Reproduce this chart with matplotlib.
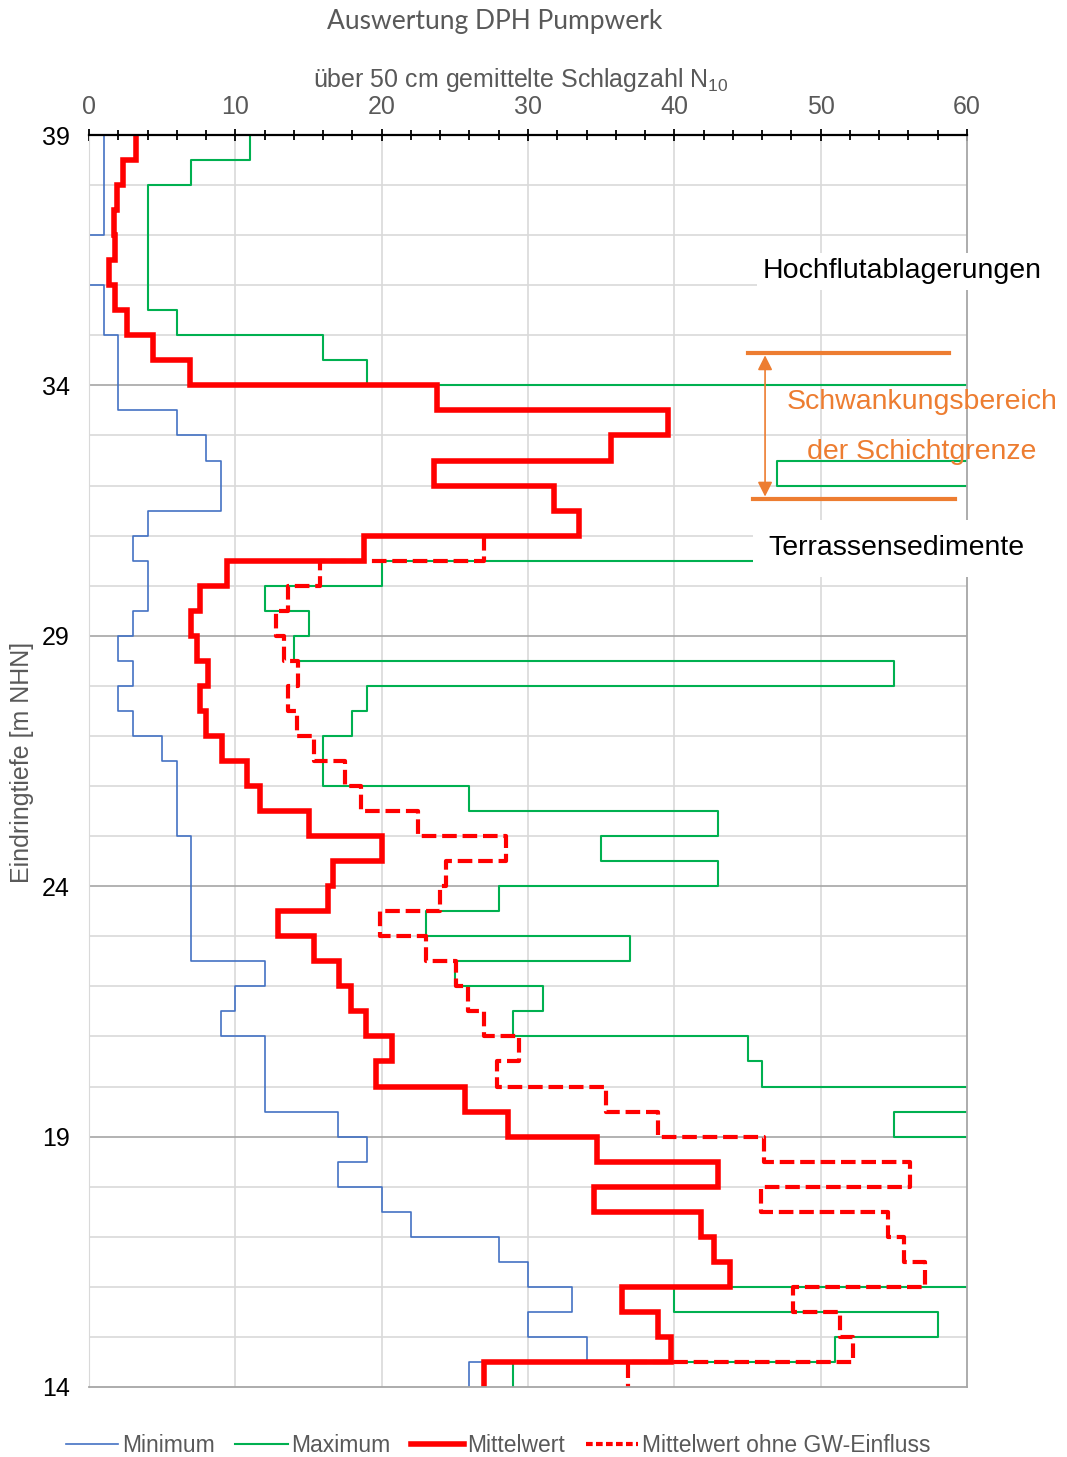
import matplotlib
matplotlib.use("Agg")
import matplotlib.pyplot as plt
from matplotlib import font_manager
from matplotlib.lines import Line2D
import numpy as np

# Tiefenintervalle: Oberkante je 0.5 m (m NHN)
depth_top = np.arange(39.0, 14.0, -0.5)

# ueber 50 cm gemittelte Schlagzahl N10 je Intervall (von oben nach unten)
# Werte > 60 liegen ausserhalb der Achse, hier als 65 eingetragen
minimum = [1, 1, 1, 1, 0, 0, 1, 1, 2, 2,
           2, 6, 8, 9, 9, 4, 3, 4, 4, 3,
           2, 3, 2, 3, 5, 6, 6, 6, 7, 7,
           7, 7, 7, 12, 10, 9, 12, 12, 12, 17,
           19, 17, 20, 22, 28, 30, 33, 30, 34, 26]
maximum = [11, 7, 4, 4, 4, 4, 4, 6, 16, 19,
           65, 65, 65, 47, 65, 65, 65, 20, 12, 15,
           14, 55, 19, 18, 16, 16, 26, 43, 35, 43,
           28, 23, 37, 25, 31, 29, 45, 46, 65, 55,
           65, 65, 65, 65, 65, 65, 40, 58, 51, 29]
mittel = [3.2, 2.3, 1.9, 1.7, 1.8, 1.4, 1.8, 2.6, 4.4, 6.9,
          23.8, 39.6, 35.7, 23.6, 31.8, 33.5, 18.8, 9.4, 7.6, 7.0,
          7.4, 8.1, 7.6, 8.0, 9.1, 10.8, 11.7, 15.0, 20.0, 16.7,
          16.3, 12.9, 15.4, 17.1, 17.9, 18.9, 20.7, 19.6, 25.7, 28.6,
          34.7, 43.0, 34.5, 41.8, 42.7, 43.8, 36.4, 38.9, 39.8, 27.0]
mittel_ohne_gw = [np.nan] * 16 + [
          27.0, 15.8, 13.6, 12.8,
          13.3, 14.3, 13.6, 14.2, 15.4, 17.5, 18.6, 22.5, 28.5, 24.4,
          24.0, 19.9, 23.0, 25.1, 25.9, 27.0, 29.4, 27.9, 35.3, 38.9,
          46.1, 56.1, 45.9, 54.6, 55.7, 57.1, 48.1, 51.3, 52.2, 36.8]

# Fonts
names = {f.name for f in font_manager.fontManager.ttflist}
narrow = 'Liberation Sans Narrow' if 'Liberation Sans Narrow' in names else 'Liberation Sans'
plt.rcParams['font.family'] = [narrow, 'DejaVu Sans']
plt.rcParams['mathtext.fontset'] = 'custom'
plt.rcParams['mathtext.rm'] = narrow
plt.rcParams['mathtext.default'] = 'regular'

BLUE = '#4472C4'
GREEN = '#00B050'
RED = '#FF0000'
ORANGE = '#ED7D31'
GRAY = '#595959'


# Stufenlinie aus Intervallwerten
def stufen(werte):
    x, y = [], []
    for d, v in zip(depth_top, werte):
        x += [v, v]
        y += [d, d - 0.5]
    return x, y


fig = plt.figure(figsize=(10.67, 14.57), dpi=100)
ax = fig.add_axes([89 / 1067, 1 - 1387 / 1457, 878 / 1067, 1252 / 1457])

ax.set_xlim(0, 60)
ax.set_ylim(14, 39)

# Gitter
for xv in range(10, 60, 10):
    ax.axvline(xv, color='#D9D9D9', lw=1.2, zorder=0)
for yv in range(15, 39):
    c = '#A6A6A6' if yv % 5 == 4 else '#D9D9D9'
    ax.axhline(yv, color=c, lw=1.2, zorder=0)

x, y = stufen(minimum)
ax.plot(x, y, color=BLUE, lw=1.2, label='Minimum')
x, y = stufen(maximum)
ax.plot(x, y, color=GREEN, lw=1.5, label='Maximum')
x, y = stufen(mittel)
ax.plot(x, y, color=RED, lw=4, solid_joinstyle='miter', label='Mittelwert')
x, y = stufen(mittel_ohne_gw)
ax.plot(x, y, color=RED, lw=3, dashes=(3.5, 1.4), label='Mittelwert ohne GW-Einfluss')

# Achsen
ax.xaxis.tick_top()
ax.set_xticks(range(0, 61, 10))
ax.set_xticks(range(0, 61, 2), minor=True)
ax.tick_params(axis='x', which='major', direction='inout', length=9, width=1.3,
               labelsize=18, labelcolor=GRAY, pad=7)
ax.tick_params(axis='x', which='minor', direction='inout', length=6.5, width=1.3)
ax.set_yticks(range(14, 40, 5))
ax.tick_params(axis='y', length=0, labelsize=18, pad=14)
for s in ['bottom', 'right']:
    ax.spines[s].set_color('#A6A6A6')
    ax.spines[s].set_linewidth(1.3)
ax.spines['left'].set_color('#D9D9D9')
ax.spines['top'].set_color('black')
ax.spines['top'].set_linewidth(1.6)

fig.text(521 / 1067, 1 - 80 / 1457, r'über 50 cm gemittelte Schlagzahl N$_{10}$',
         ha='center', va='center', fontsize=18, color=GRAY)
fig.text(495 / 1067, 1 - 21 / 1457, 'Auswertung DPH Pumpwerk', ha='center', va='center',
         fontsize=19, color=GRAY, family=['Lato', 'DejaVu Sans'])
fig.text(22 / 1067, 1 - 762 / 1457, 'Eindringtiefe [m NHN]', rotation=90,
         ha='center', va='center', fontsize=18, color=GRAY)

# Schichtbeschriftung
ax.text(55.57, 36.28, 'Hochflutablagerungen', ha='center', va='center', fontsize=20.5,
        family=['Liberation Sans'], bbox=dict(facecolor='white', edgecolor='none', pad=4),
        zorder=6, clip_on=False)
ax.text(55.2, 30.75, 'Terrassensedimente', ha='center', va='center', fontsize=20.5,
        family=['Liberation Sans'], bbox=dict(facecolor='white', edgecolor='none', pad=11),
        zorder=6, clip_on=False)

# Schwankungsbereich
ax.plot([45.0, 58.8], [34.65, 34.65], color=ORANGE, lw=3, clip_on=False, zorder=7)
ax.plot([45.4, 59.2], [31.73, 31.73], color=ORANGE, lw=3, clip_on=False, zorder=7)
ax.annotate('', xy=(46.2, 31.78), xytext=(46.2, 34.6),
            arrowprops=dict(arrowstyle='<|-|>', color=ORANGE, lw=1.2,
                            mutation_scale=22, shrinkA=0, shrinkB=0), zorder=7)
ax.text(56.9, 33.67, 'Schwankungsbereich', ha='center', va='center', fontsize=20.5,
        color=ORANGE, family=['Liberation Sans'], zorder=7)
ax.text(56.9, 32.67, 'der Schichtgrenze', ha='center', va='center', fontsize=20.5,
        color=ORANGE, family=['Liberation Sans'], zorder=7)

# Legende
handles = [Line2D([], [], color=BLUE, lw=1.2),
           Line2D([], [], color=GREEN, lw=1.5),
           Line2D([], [], color=RED, lw=4),
           Line2D([], [], color=RED, lw=3, dashes=(1.6, 0.8))]
labels = ['Minimum', 'Maximum', 'Mittelwert', 'Mittelwert ohne GW-Einfluss']
leg = fig.legend(handles, labels, loc='center', bbox_to_anchor=(498 / 1067, 1 - 1446 / 1457),
                 ncol=4, frameon=False, fontsize=16.5, handlelength=2.3, handletextpad=0.15,
                 columnspacing=0.9, borderaxespad=0)
for t in leg.get_texts():
    t.set_color(GRAY)

fig.savefig('out.png', dpi=100)
